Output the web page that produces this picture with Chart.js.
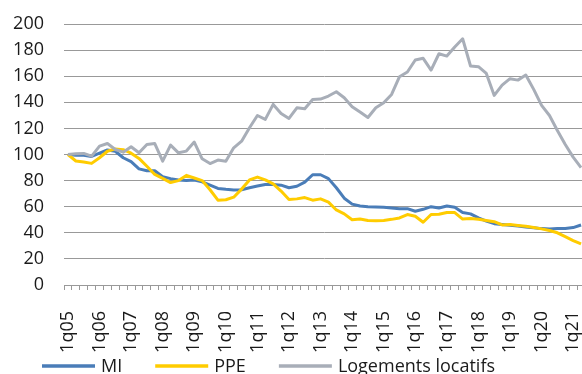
<!DOCTYPE html>
<html>
<head>
<meta charset="utf-8">
<script src="https://cdn.jsdelivr.net/npm/chart.js@4/dist/chart.umd.min.js"></script>
<style>
  html, body { margin: 0; padding: 0; background: #fff; }
  #wrap { width: 582px; height: 374px; overflow: hidden; }
  canvas { display: block; }
</style>
</head>
<body>
<div id="wrap"><canvas id="chart" width="585" height="374"></canvas></div>
<script>
// Quarterly index, 1q05 = 100
const quarters = [];
for (let y = 5; y <= 21; y++) {
    for (let q = 1; q <= 4; q++) {
        if (y === 21 && q > 2) break;
        quarters.push(q + 'q' + String(y).padStart(2, '0'));
    }
}

// only the first quarter of each year gets a label
const yearTicks = ['1q05', '1q06', '1q07', '1q08', '1q09', '1q10', '1q11', '1q12', '1q13',
    '1q14', '1q15', '1q16', '1q17', '1q18', '1q19', '1q20', '1q21'];

const mi = [100, 99.5, 99.5, 98.5, 101, 103.5, 102.5, 97.5, 94.5, 89,
    87.5, 87.5, 83, 81.5, 80.5, 80, 80.5, 79, 76.5, 74,
    73.3, 72.8, 73, 74.5, 75.8, 77, 77, 76.5, 74.5, 75.7,
    78.8, 84.5, 84.5, 81.5, 74.5, 66.5, 62, 60.5, 60, 59.8,
    59.5, 59, 58.5, 58.5, 56.5, 58, 60, 59, 60.5, 59.5,
    55.5, 54.5, 51.5, 49, 47, 46.3, 45.7, 45.2, 44.5, 43.8,
    43.2, 43, 43.3, 43.3, 44, 46];

const ppe = [100, 95, 94.3, 93.2, 97.5, 102.5, 104.3, 103.7, 101, 97,
    91, 84.7, 81.7, 78.5, 80, 84, 82, 80, 73, 65,
    65.3, 67.3, 73.5, 80.5, 82.7, 80.5, 77.5, 72, 65.5, 66,
    67, 65, 66, 63.5, 57.5, 54.5, 50, 50.6, 49.4, 49.3,
    49.5, 50.3, 51.4, 54, 52.7, 48.1, 54, 54.2, 55.5, 55.5,
    50.5, 51, 50.3, 49.5, 48.5, 46, 46.3, 45.6, 45, 44,
    43, 41.8, 40, 37, 34, 31.5];

const logements = [100, 100.5, 100.8, 98.7, 106.4, 108.4, 103.8, 101.8, 105.9, 101.3,
    107.7, 108.4, 94.9, 107.2, 101.3, 102.6, 109.5, 96.7, 93.1, 95.7,
    94.9, 105.1, 110.2, 120.5, 129.9, 126.9, 138.4, 131.5, 127.6, 135.8,
    135, 142.2, 142.5, 144.8, 148.1, 143.5, 136.6, 132.5, 128.4, 135.8,
    139.6, 146, 159.6, 163.2, 172.4, 173.7, 164.7, 177.2, 175.4, 182.4,
    188.7, 167.8, 167.3, 162.1, 145.3, 153.2, 158.1, 157, 160.9, 149.9,
    137.6, 129.9, 118.4, 107.7, 98, 90];

const FONT = '"Open Sans", sans-serif';
const TEXT = '#1a1a1a';
const GRID = '#999999';

Chart.defaults.font.family = FONT;
Chart.defaults.font.size = 18;
Chart.defaults.color = TEXT;

// legend drawn by hand under the axis labels
const bottomLegend = {
    id: 'bottomLegend',
    afterDraw(chart) {
        const ctx = chart.ctx;
        ctx.save();
        ctx.font = '18px ' + FONT;
        ctx.textBaseline = 'alphabetic';
        let x = 42;
        chart.data.datasets.forEach(ds => {
            ctx.strokeStyle = ds.borderColor;
            ctx.lineWidth = 3.5;
            ctx.beginPath();
            ctx.moveTo(x, 366);
            ctx.lineTo(x + 53, 366);
            ctx.stroke();
            ctx.fillStyle = TEXT;
            ctx.fillText(ds.label, x + 59, 372);
            x += 53 + 6 + ctx.measureText(ds.label).width + 33;
        });
        ctx.restore();
    }
};

const line = (label, data, color, order) => ({
    label, data, order,
    borderColor: color,
    backgroundColor: color,
    borderWidth: 3,
    pointRadius: 0,
    tension: 0,
    borderJoinStyle: 'round',
    fill: false
});

new Chart(document.getElementById('chart'), {
    type: 'line',
    data: {
        labels: quarters,
        datasets: [
            line('MI', mi, '#4a7db8', 3),
            line('PPE', ppe, '#ffcc00', 2),
            line('Logements locatifs', logements, '#a8aeb8', 1)
        ]
    },
    options: {
        responsive: false,
        animation: false,
        layout: { padding: { top: 24, left: 0, right: 0, bottom: 0 } },
        plugins: { legend: { display: false }, tooltip: { enabled: false } },
        scales: {
            x: {
                offset: true,
                grid: { drawOnChartArea: false, drawTicks: true, tickLength: 5, color: GRID, offset: true },
                border: { display: true, color: GRID, width: 1 },
                ticks: {
                    autoSkip: false,
                    minRotation: 90,
                    maxRotation: 90,
                    padding: 21,
                    callback: (v, i) => yearTicks.includes(quarters[i]) ? quarters[i] : ''
                },
                afterFit: s => {
                    s.height = 89;
                    s.paddingLeft = 0;
                    s.paddingRight = 0;
                }
            },
            y: {
                min: 0,
                max: 200,
                ticks: { stepSize: 20, padding: 20 },
                grid: { color: GRID, drawTicks: false },
                border: { display: false },
                afterFit: s => {
                    s.width = 64;
                    s.paddingTop = 0;
                    s.paddingBottom = 0;
                }
            }
        }
    },
    plugins: [bottomLegend]
});
</script>
</body>
</html>
